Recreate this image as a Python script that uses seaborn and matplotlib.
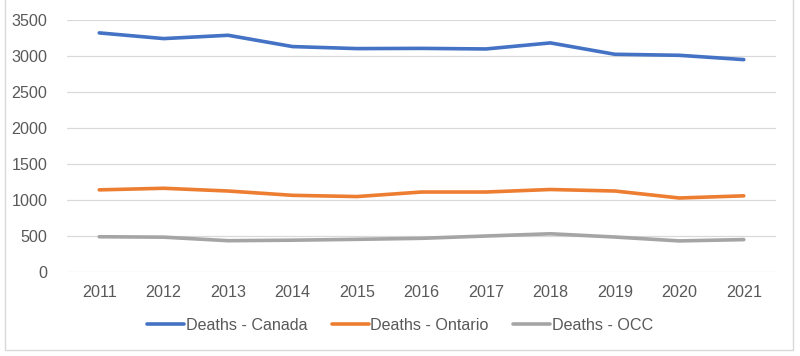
import matplotlib
matplotlib.use("Agg")
import matplotlib.pyplot as plt
import seaborn as sns
import pandas as pd
from matplotlib.patches import Rectangle

years = ["2011", "2012", "2013", "2014", "2015", "2016", "2017", "2018", "2019", "2020", "2021"]
canada = [3325, 3246, 3292, 3135, 3107, 3110, 3102, 3186, 3028, 3014, 2954]
ontario = [1145, 1167, 1129, 1069, 1052, 1115, 1115, 1150, 1129, 1032, 1062]
occ = [494, 488, 439, 446, 458, 472, 504, 535, 490, 436, 454]
series_names = ["Deaths - Canada", "Deaths - Ontario", "Deaths - OCC"]
colors = ["#4472C4", "#ED7D31", "#A5A5A5"]
yticks = [0, 500, 1000, 1500, 2000, 2500, 3000, 3500]

df = pd.DataFrame({
    "Year": years * 3,
    "Deaths": canada + ontario + occ,
    "Series": [series_names[0]] * len(years) + [series_names[1]] * len(years) + [series_names[2]] * len(years),
})

sns.set_theme(style="white")
plt.rcParams["font.family"] = ["Liberation Sans", "DejaVu Sans"]

fig = plt.figure(figsize=(8.0, 3.56), dpi=100)
ax = fig.add_axes([67 / 800, 1 - 272.3 / 356, (776 - 67) / 800, 252 / 356])

sns.lineplot(data=df, x="Year", y="Deaths", hue="Series", palette=colors,
             linewidth=2.6, ax=ax, sort=False, legend=False)

ax.set_xlim(-0.5, len(years) - 0.5)
ax.set_ylim(0, 3500)
ax.set_yticks(yticks)
ax.set_yticklabels([str(v) for v in yticks])
ax.set_xlabel("")
ax.set_ylabel("")
ax.grid(axis="y", color="#D9D9D9", linewidth=0.9)
ax.grid(axis="x", visible=False)
for s in ax.spines.values():
    s.set_visible(False)
ax.tick_params(axis="both", length=0, labelsize=11.6, labelcolor="#595959")
ax.tick_params(axis="x", pad=9)
ax.tick_params(axis="y", pad=14)
ax.set_axisbelow(True)

handles = [plt.Line2D([], [], color=c, linewidth=2.6) for c in colors]
fig.legend(handles, series_names, loc="center", bbox_to_anchor=(0.5, 1 - 325 / 356),
           ncol=3, frameon=False, fontsize=11.6, handlelength=2.3, handletextpad=0.1,
           columnspacing=1.5, labelcolor="#595959")

fig.patches.append(Rectangle((5 / 800, 1 - 350 / 356), 788 / 800, 1.0,
                             transform=fig.transFigure, fill=False,
                             edgecolor="#D9D9D9", linewidth=1.0))

fig.savefig("out.png", dpi=100)
